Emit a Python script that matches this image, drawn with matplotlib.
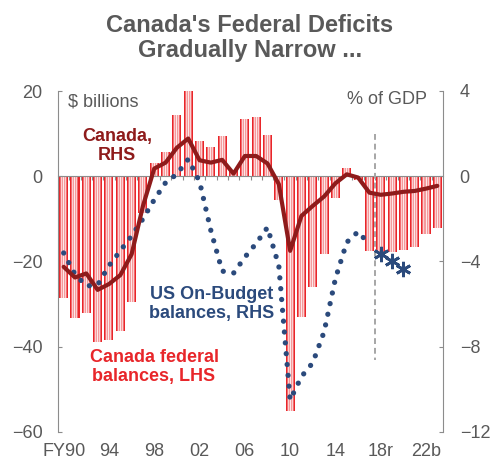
import numpy as np
import matplotlib.pyplot as plt

plt.rcParams['font.family'] = ['Liberation Sans', 'DejaVu Sans']

# fiscal years FY1990 .. FY2023
years = np.arange(1990, 2024)

# Canada federal budget balance, $ billions (LHS)
canada_bn = [-28.6, -33.3, -32.0, -39.0, -38.5, -36.3, -29.6, -8.7, 3.0, 5.8,
             14.3, 20.0, 8.2, 6.9, 9.5, 1.5, 13.4, 13.8, 9.6, -5.6,
             -55.0, -33.0, -26.0, -18.2, -5.0, 2.0, -0.8, -17.6, -18.0, -17.7,
             -17.3, -16.6, -13.6, -12.1]

# Canada federal balance, % of GDP (RHS)
canada_gdp = [-4.25, -4.75, -4.56, -5.33, -5.06, -4.64, -3.66, -1.4, 0.36, 0.64,
              1.34, 1.77, 0.75, 0.64, 0.77, 0.12, 0.95, 0.95, 0.6, -0.37,
              -3.5, -1.86, -1.39, -0.95, -0.33, 0.09, -0.06, -0.77, -0.87, -0.81,
              -0.73, -0.69, -0.58, -0.45]

# US on-budget balance, % of GDP (RHS), actuals then projections
us_gdp = [-3.6, -4.6, -5.15, -5.1, -4.2, -3.5, -2.8, -2.0, -1.1, -0.3,
          0.1, 0.8, -0.25, -2.55, -4.45, -4.55, -3.8, -3.15, -2.4, -4.2,
          -10.5, -9.4, -8.75, -7.3, -4.8, -3.1, -2.6, -3.2]
us_proj = [-3.67, -3.97, -4.36]

tick_years = [1990, 1994, 1998, 2002, 2006, 2010, 2014, 2018, 2022]
tick_labels = ['FY90', '94', '98', '02', '06', '10', '14', '18r', '22b']
proj_start = 2017.5

grey = '#595959'
axis_grey = '#8c8c8c'
dark_red = '#8e1b1b'
bar_red = '#e8262a'
navy = '#2b4a7c'

x = years - years[0]
fig = plt.figure(figsize=(4.9, 4.59), dpi=100)
ax = fig.add_axes([58 / 490, 1 - 432 / 459, 385 / 490, 341 / 459])
ax2 = ax.twinx()

# bars drawn as vertical stripes: red edges, pale centre
stripes = ['#e8262a', '#f26d70', '#fbd0d1', '#f49a9c', '#fde9e9',
           '#f49a9c', '#fbd0d1', '#f26d70', '#e8262a']
bw = 0.8
for k, c in enumerate(stripes):
    off = -bw / 2 + (k + 0.5) * bw / len(stripes)
    ax.bar(x + off, canada_bn, width=bw / len(stripes) * 1.02, color=c,
           linewidth=0, zorder=2)

ax.set_xlim(-0.5, len(years) - 0.5)
ax.set_ylim(-60, 20)
ax2.set_ylim(-12, 4)

# zero line with small ticks between the bars
ax.spines['bottom'].set_position(('data', 0))
ax.spines['bottom'].set_color(axis_grey)
ax.set_xticks(np.arange(0.5, len(years) - 1, 1))
ax.set_xticklabels([])
ax.tick_params(axis='x', direction='out', length=3, color=axis_grey)

secx = ax.secondary_xaxis(0.0)
secx.set_xticks([t - years[0] for t in tick_years], tick_labels)
secx.tick_params(length=0, pad=8, labelsize=13, labelcolor=grey)
secx.spines['bottom'].set_visible(False)

for s in ['top', 'right']:
    ax.spines[s].set_visible(False)
for s in ['top', 'left', 'bottom']:
    ax2.spines[s].set_visible(False)
ax.spines['left'].set_color(axis_grey)
ax2.spines['right'].set_color(axis_grey)

ax.set_yticks([-60, -40, -20, 0, 20])
ax.tick_params(axis='y', direction='in', length=3, pad=11, labelsize=13,
               color=axis_grey, labelcolor=grey)
ax2.set_yticks([-12, -8, -4, 0, 4])
ax2.tick_params(axis='y', direction='in', length=3, pad=12, labelsize=13,
                color=axis_grey, labelcolor=grey)

# projection marker
xp = proj_start - years[0]
ax.plot([xp, xp], [10, -43], ls=(0, (3, 2)), color='#a6a6a6', lw=1.4, zorder=3)

ax2.plot(x[:len(us_gdp)], us_gdp, color=navy, lw=3.8, ls=(0, (0.01, 2.05)),
         dash_capstyle='round', zorder=3)
ax2.plot(x[len(us_gdp):len(us_gdp) + len(us_proj)], us_proj, ls='none',
         marker=(6, 2, 0), ms=11, mew=2, color=navy, zorder=3)
ax2.plot(x, canada_gdp, color=dark_red, lw=3, solid_joinstyle='round',
         solid_capstyle='round', zorder=4)

def px(xp_, yp_):
    return xp_ / 490, 1 - yp_ / 459

fig.text(*px(250, 25), "Canada's Federal Deficits", ha='center', va='center',
         fontsize=17, fontweight='bold', color=grey)
fig.text(*px(250, 50), "Gradually Narrow ...", ha='center', va='center',
         fontsize=17, fontweight='bold', color=grey)

fig.text(*px(68, 102), '$ billions', ha='left', va='center', fontsize=13, color=grey)
fig.text(*px(427, 99), '% of GDP', ha='right', va='center', fontsize=13, color=grey)

fig.text(*px(117, 146), 'Canada,\nRHS', ha='center', va='center', fontsize=13,
         fontweight='bold', color=dark_red, linespacing=1.2)
fig.text(*px(212, 304), 'US On-Budget\nbalances, RHS', ha='center', va='center',
         fontsize=13, fontweight='bold', color=navy, linespacing=1.2)
fig.text(*px(154, 367), 'Canada federal\nbalances, LHS', ha='center', va='center',
         fontsize=13, fontweight='bold', color=bar_red, linespacing=1.2)

fig.savefig('out.png', dpi=100)
